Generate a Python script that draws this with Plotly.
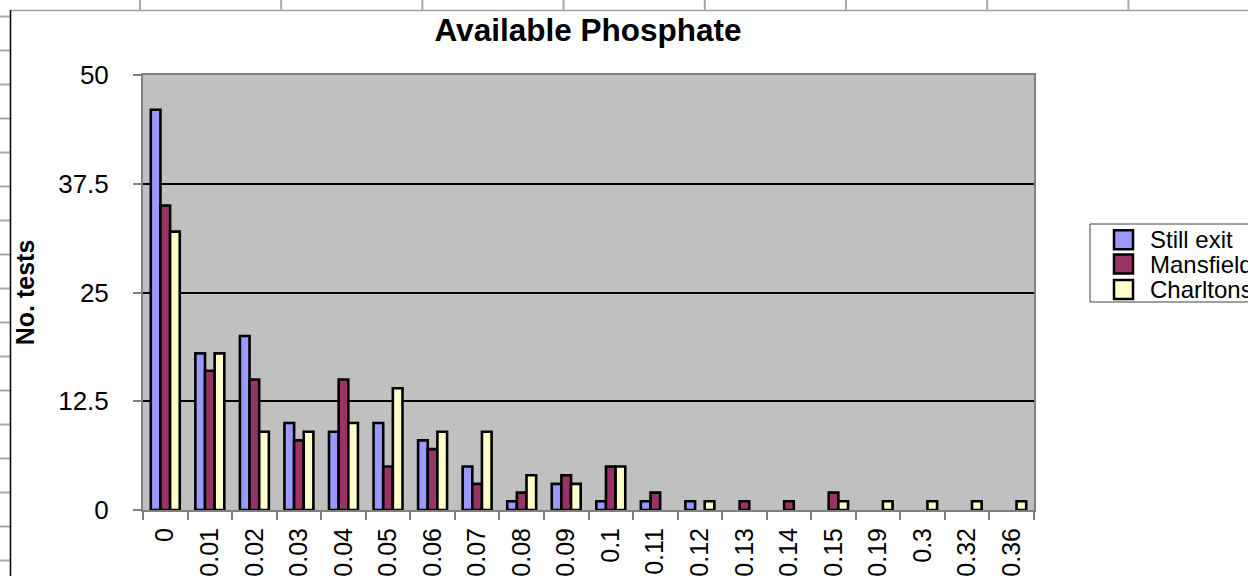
import plotly.graph_objects as go

# ---------------- data ----------------
categories = ["0", "0.01", "0.02", "0.03", "0.04", "0.05", "0.06", "0.07", "0.08", "0.09",
              "0.1", "0.11", "0.12", "0.13", "0.14", "0.15", "0.19", "0.3", "0.32", "0.36"]
still_exit = [46, 18, 20, 10, 9, 10, 8, 5, 1, 3, 1, 1, 1, 0, 0, 0, 0, 0, 0, 0]
mansfield = [35, 16, 15, 8, 15, 5, 7, 3, 2, 4, 5, 2, 0, 1, 1, 2, 0, 0, 0, 0]
charltons = [32, 18, 9, 9, 10, 14, 9, 9, 4, 3, 5, 0, 1, 0, 0, 1, 1, 1, 1, 1]
series_names = ["Still exit", "Mansfield", "Charltons"]
series_colors = ["#9999FF", "#993366", "#FFFFCC"]
y_tick_values = [0, 12.5, 25, 37.5, 50]
y_tick_labels = ["0", "12.5", "25", "37.5", "50"]
title_text = "Available Phosphate"
y_title = "No. tests"

# ---------------- layout geometry (page pixels) ----------------
W, H = 1248, 576
PL, PR, PT, PB = 143, 1034, 75, 510   # plot area in page pixels
FONT = "Liberation Sans, Arial, sans-serif"


def px_x(x):
    return (x - PL) / (PR - PL)


def px_y(y):
    return (PB - y) / (PB - PT)


fig = go.Figure()
for name, vals, col in zip(series_names, [still_exit, mansfield, charltons], series_colors):
    fig.add_trace(go.Bar(
        x=categories,
        y=[v if v else None for v in vals],
        name=name,
        marker=dict(color=col, line=dict(color="black", width=2.6)),
        showlegend=False,
    ))

shapes = []
GRID = "#A8A8A8"
# spreadsheet cell lines above the chart
for k in range(8):
    x = 140 + 141.2 * k
    shapes.append(dict(type="line", xref="paper", yref="paper",
                       x0=px_x(x), x1=px_x(x), y0=px_y(0), y1=px_y(10),
                       line=dict(color=GRID, width=2)))
# spreadsheet cell lines left of the chart
for k in range(17):
    y = 16.5 + 34 * k
    shapes.append(dict(type="line", xref="paper", yref="paper",
                       x0=px_x(0), x1=px_x(10), y0=px_y(y), y1=px_y(y),
                       line=dict(color=GRID, width=2)))
# chart area border
shapes.append(dict(type="line", xref="paper", yref="paper",
                   x0=px_x(10), x1=px_x(1260), y0=px_y(10.5), y1=px_y(10.5),
                   line=dict(color="#A0A0A0", width=1.5)))
shapes.append(dict(type="line", xref="paper", yref="paper",
                   x0=px_x(10.5), x1=px_x(10.5), y0=px_y(10), y1=px_y(590),
                   line=dict(color="black", width=1.5)))

# legend (box + swatches + labels)
shapes.append(dict(type="rect", xref="paper", yref="paper",
                   x0=px_x(1090), x1=px_x(1270), y0=px_y(224), y1=px_y(302),
                   line=dict(color="#404040", width=1), fillcolor="white"))
legend_centers = [239.7, 264.0, 289.5]
annotations = []
for name, col, cy in zip(series_names, series_colors, legend_centers):
    shapes.append(dict(type="rect", xref="paper", yref="paper",
                       x0=px_x(1114), x1=px_x(1133), y0=px_y(cy - 9.5), y1=px_y(cy + 9.5),
                       line=dict(color="black", width=2.5), fillcolor=col))
    annotations.append(dict(xref="paper", yref="paper", x=px_x(1148), y=px_y(cy),
                            xanchor="left", yanchor="middle", showarrow=False,
                            text=name, font=dict(family=FONT, size=24, color="black")))

fig.update_layout(
    width=W, height=H,
    margin=dict(l=PL, r=W - PR, t=PT, b=H - PB, pad=0, autoexpand=False),
    paper_bgcolor="white",
    plot_bgcolor="#C0C0C0",
    barmode="group",
    bargap=0.35,
    bargroupgap=0,
    font=dict(family=FONT, size=25, color="black"),
    title=dict(text=title_text, x=588 / W, xanchor="center", xref="container",
               y=1 - 30 / H, yanchor="middle", yref="container",
               font=dict(family=FONT, size=31.5, color="black", weight="bold")),
    xaxis=dict(
        type="category",
        automargin=False,
        tickangle=-90,
        ticks="outside", tickson="boundaries", ticklen=8, tickwidth=2, tickcolor="#808080",
        showline=True, linecolor="#808080", linewidth=2, mirror=True,
        showgrid=False, zeroline=False,
        tickfont=dict(family=FONT, size=25, color="black"),
        ticklabelstandoff=6,
    ),
    yaxis=dict(
        range=[0, 50],
        automargin=False,
        tickmode="array", tickvals=y_tick_values, ticktext=y_tick_labels,
        ticks="outside", ticklen=8, tickwidth=2, tickcolor="#808080",
        showline=True, linecolor="#808080", linewidth=2, mirror=True,
        showgrid=True, gridcolor="black", gridwidth=2, zeroline=False,
        tickfont=dict(family=FONT, size=26, color="black"),
        ticklabelstandoff=19,
        title=dict(text=y_title, standoff=16,
                   font=dict(family=FONT, size=25, color="black", weight="bold")),
    ),
    shapes=shapes,
    annotations=annotations,
)

fig.write_html("out.html",
               config={"displayModeBar": False},
               post_script="document.body.style.margin='0px';document.body.style.overflow='hidden';")
